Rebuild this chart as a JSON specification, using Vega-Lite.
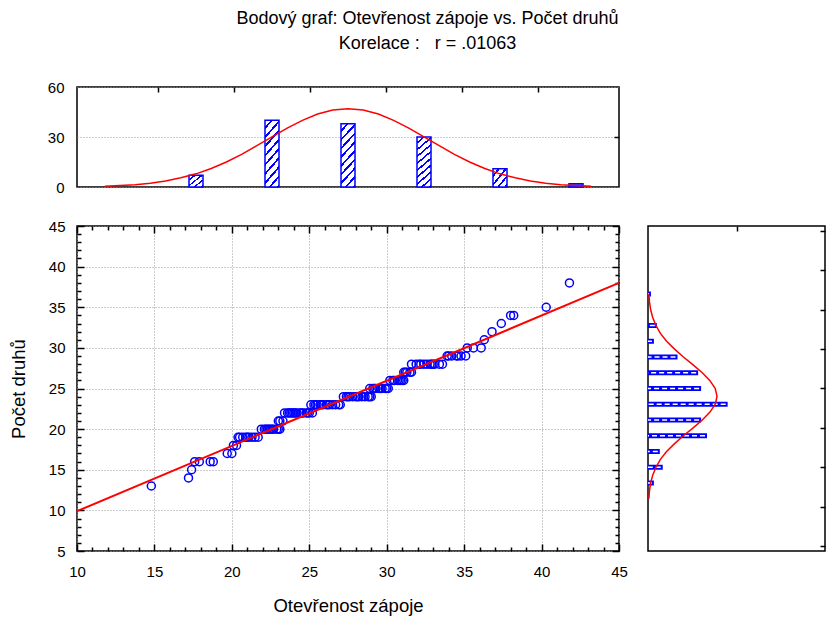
{
  "$schema": "https://vega.github.io/schema/vega-lite/v6.json",
  "background": "white",
  "padding": {"left": 8, "top": 10, "right": 5, "bottom": 5},
  "title": {
    "text": "Bodový graf: Otevřenost zápoje vs. Počet druhů",
    "subtitle": "Korelace :\u00a0\u00a0\u00a0r = .01063",
    "anchor": "middle",
    "dx": 10,
    "font": "Liberation Sans",
    "fontSize": 18,
    "fontWeight": "normal",
    "color": "black",
    "subtitleFont": "Liberation Sans",
    "subtitleFontSize": 18,
    "subtitleColor": "black",
    "subtitlePadding": 7,
    "offset": 26
  },
  "config": {
    "view": {"stroke": "black", "strokeWidth": 1.5},
    "axis": {
      "labelFont": "Liberation Sans",
      "labelFontSize": 15,
      "labelColor": "black",
      "titleFont": "Liberation Sans",
      "titleFontSize": 18.5,
      "titleFontWeight": "normal",
      "titleColor": "black",
      "domain": false,
      "tickColor": "black",
      "tickWidth": 1.5,
      "gridColor": "#999999",
      "gridDash": [1, 2],
      "gridWidth": 1,
      "labelFlush": false,
      "labelOverlap": false
    }
  },
  "spacing": 22,
  "vconcat": [
    {
      "width": 542,
      "height": 100,
      "layer": [
        {
          "data": {"values": [
            {"mid": 17.5, "count": 7}, {"mid": 22.5, "count": 40}, {"mid": 27.5, "count": 38},
            {"mid": 32.5, "count": 30}, {"mid": 37.5, "count": 11}, {"mid": 42.5, "count": 2}
          ]},
          "mark": {"type": "bar", "orient": "vertical", "size": 14, "stroke": "#0000ff", "strokeWidth": 1.5},
          "encoding": {
            "x": {"field": "mid", "type": "quantitative", "scale": {"domain": [10, 45], "nice": false, "zero": false},
                  "axis": {"orient": "top", "labels": false, "title": null, "values": [15, 20, 25, 30, 35, 40], "tickSize": -5, "grid": false}},
            "y": {"field": "count", "type": "quantitative", "scale": {"domain": [0, 60], "nice": false},
                  "axis": {"orient": "left", "values": [0, 30, 60], "title": null, "ticks": false, "grid": true, "labelPadding": 13}},
            "fill": {
              "condition": [
                {"test": "datum.count >= 25", "value": {"gradient": "linear", "x1": 0, "y1": 0, "x2": 0.28, "y2": 1.17, "stops": [
                  {"offset": 0, "color": "#ffffff"}, {"offset": 0.078, "color": "#ffffff"}, {"offset": 0.078, "color": "#0000ff"}, {"offset": 0.111, "color": "#0000ff"},
                  {"offset": 0.111, "color": "#ffffff"}, {"offset": 0.189, "color": "#ffffff"}, {"offset": 0.189, "color": "#0000ff"}, {"offset": 0.222, "color": "#0000ff"},
                  {"offset": 0.222, "color": "#ffffff"}, {"offset": 0.300, "color": "#ffffff"}, {"offset": 0.300, "color": "#0000ff"}, {"offset": 0.333, "color": "#0000ff"},
                  {"offset": 0.333, "color": "#ffffff"}, {"offset": 0.411, "color": "#ffffff"}, {"offset": 0.411, "color": "#0000ff"}, {"offset": 0.444, "color": "#0000ff"},
                  {"offset": 0.444, "color": "#ffffff"}, {"offset": 0.522, "color": "#ffffff"}, {"offset": 0.522, "color": "#0000ff"}, {"offset": 0.556, "color": "#0000ff"},
                  {"offset": 0.556, "color": "#ffffff"}, {"offset": 0.633, "color": "#ffffff"}, {"offset": 0.633, "color": "#0000ff"}, {"offset": 0.667, "color": "#0000ff"},
                  {"offset": 0.667, "color": "#ffffff"}, {"offset": 0.744, "color": "#ffffff"}, {"offset": 0.744, "color": "#0000ff"}, {"offset": 0.778, "color": "#0000ff"},
                  {"offset": 0.778, "color": "#ffffff"}, {"offset": 0.856, "color": "#ffffff"}, {"offset": 0.856, "color": "#0000ff"}, {"offset": 0.889, "color": "#0000ff"},
                  {"offset": 0.889, "color": "#ffffff"}, {"offset": 0.967, "color": "#ffffff"}, {"offset": 0.967, "color": "#0000ff"}, {"offset": 1.0, "color": "#0000ff"}
                ]}},
                {"test": "datum.count >= 5", "value": {"gradient": "linear", "x1": 0, "y1": 0, "x2": 0.95, "y2": 1.0, "stops": [
                  {"offset": 0, "color": "#ffffff"}, {"offset": 0.175, "color": "#ffffff"}, {"offset": 0.175, "color": "#0000ff"}, {"offset": 0.25, "color": "#0000ff"},
                  {"offset": 0.25, "color": "#ffffff"}, {"offset": 0.425, "color": "#ffffff"}, {"offset": 0.425, "color": "#0000ff"}, {"offset": 0.5, "color": "#0000ff"},
                  {"offset": 0.5, "color": "#ffffff"}, {"offset": 0.675, "color": "#ffffff"}, {"offset": 0.675, "color": "#0000ff"}, {"offset": 0.75, "color": "#0000ff"},
                  {"offset": 0.75, "color": "#ffffff"}, {"offset": 0.925, "color": "#ffffff"}, {"offset": 0.925, "color": "#0000ff"}, {"offset": 1.0, "color": "#0000ff"}
                ]}}
              ],
              "value": "#6060ff"
            }
          }
        },
        {
          "data": {"values": [
            {"x": 11.5, "y": 0.5}, {"x": 12.5, "y": 0.9}, {"x": 13.5, "y": 1.4}, {"x": 14.5, "y": 2.3},
            {"x": 15.5, "y": 3.6}, {"x": 16.5, "y": 5.5}, {"x": 17.5, "y": 7.9}, {"x": 18.5, "y": 11.1},
            {"x": 19.5, "y": 15.0}, {"x": 20.5, "y": 19.6}, {"x": 21.5, "y": 24.8}, {"x": 22.5, "y": 30.1},
            {"x": 23.5, "y": 35.3}, {"x": 24.5, "y": 40.0}, {"x": 25.5, "y": 43.8}, {"x": 26.5, "y": 46.2},
            {"x": 27.5, "y": 47.0}, {"x": 28.5, "y": 46.2}, {"x": 29.5, "y": 43.8}, {"x": 30.5, "y": 40.0},
            {"x": 31.5, "y": 35.3}, {"x": 32.5, "y": 30.1}, {"x": 33.5, "y": 24.8}, {"x": 34.5, "y": 19.6},
            {"x": 35.5, "y": 15.0}, {"x": 36.5, "y": 11.1}, {"x": 37.5, "y": 7.9}, {"x": 38.5, "y": 5.5},
            {"x": 39.5, "y": 3.6}, {"x": 40.5, "y": 2.3}, {"x": 41.5, "y": 1.4}, {"x": 42.5, "y": 0.9},
            {"x": 43.5, "y": 0.5}
          ]},
          "mark": {"type": "line", "color": "#ff0000", "strokeWidth": 1.5},
          "encoding": {
            "x": {"field": "x", "type": "quantitative", "axis": null},
            "y": {"field": "y", "type": "quantitative",
                  "axis": {"orient": "right", "labels": false, "title": null, "values": [30], "tickSize": -5, "grid": false}}
          }
        }
      ],
      "resolve": {"axis": {"x": "independent", "y": "independent"}}
    },
    {
      "spacing": 16,
      "hconcat": [
        {
          "width": 542,
          "height": 325,
          "layer": [
            {
              "data": {"values": [
                {"x": 14.8, "y": 13}, {"x": 17.2, "y": 14}, {"x": 17.4, "y": 15},
                {"x": 17.6, "y": 16}, {"x": 17.9, "y": 16}, {"x": 18.6, "y": 16}, {"x": 18.8, "y": 16},
                {"x": 19.7, "y": 17}, {"x": 20.0, "y": 17},
                {"x": 20.1, "y": 18}, {"x": 20.3, "y": 18},
                {"x": 20.4, "y": 19}, {"x": 20.5, "y": 19}, {"x": 20.7, "y": 19}, {"x": 20.9, "y": 19}, {"x": 21.0, "y": 19},
                {"x": 21.1, "y": 19}, {"x": 21.3, "y": 19}, {"x": 21.5, "y": 19}, {"x": 21.7, "y": 19},
                {"x": 21.9, "y": 20}, {"x": 22.1, "y": 20}, {"x": 22.2, "y": 20}, {"x": 22.3, "y": 20}, {"x": 22.4, "y": 20},
                {"x": 22.5, "y": 20}, {"x": 22.6, "y": 20}, {"x": 22.7, "y": 20}, {"x": 22.9, "y": 20}, {"x": 23.0, "y": 20}, {"x": 23.1, "y": 20},
                {"x": 23.0, "y": 21}, {"x": 23.1, "y": 21}, {"x": 23.3, "y": 21},
                {"x": 23.4, "y": 22}, {"x": 23.6, "y": 22}, {"x": 23.7, "y": 22}, {"x": 23.8, "y": 22}, {"x": 23.9, "y": 22},
                {"x": 24.0, "y": 22}, {"x": 24.1, "y": 22}, {"x": 24.2, "y": 22}, {"x": 24.4, "y": 22}, {"x": 24.5, "y": 22},
                {"x": 24.6, "y": 22}, {"x": 24.8, "y": 22}, {"x": 24.9, "y": 22}, {"x": 25.0, "y": 22}, {"x": 25.2, "y": 22},
                {"x": 25.1, "y": 23}, {"x": 25.3, "y": 23}, {"x": 25.4, "y": 23}, {"x": 25.5, "y": 23}, {"x": 25.7, "y": 23},
                {"x": 25.8, "y": 23}, {"x": 25.9, "y": 23}, {"x": 26.1, "y": 23}, {"x": 26.2, "y": 23}, {"x": 26.3, "y": 23},
                {"x": 26.5, "y": 23}, {"x": 26.7, "y": 23}, {"x": 26.9, "y": 23}, {"x": 27.0, "y": 23},
                {"x": 27.2, "y": 24}, {"x": 27.4, "y": 24}, {"x": 27.5, "y": 24}, {"x": 27.6, "y": 24}, {"x": 27.8, "y": 24},
                {"x": 28.0, "y": 24}, {"x": 28.1, "y": 24}, {"x": 28.2, "y": 24}, {"x": 28.4, "y": 24}, {"x": 28.6, "y": 24},
                {"x": 28.8, "y": 24}, {"x": 28.9, "y": 24}, {"x": 29.0, "y": 24},
                {"x": 28.9, "y": 25}, {"x": 29.1, "y": 25}, {"x": 29.2, "y": 25}, {"x": 29.3, "y": 25}, {"x": 29.5, "y": 25},
                {"x": 29.6, "y": 25}, {"x": 29.7, "y": 25}, {"x": 29.9, "y": 25}, {"x": 30.0, "y": 25}, {"x": 30.1, "y": 25},
                {"x": 30.2, "y": 26}, {"x": 30.4, "y": 26}, {"x": 30.5, "y": 26}, {"x": 30.7, "y": 26}, {"x": 30.8, "y": 26},
                {"x": 30.9, "y": 26}, {"x": 31.0, "y": 26}, {"x": 31.1, "y": 26},
                {"x": 31.1, "y": 27}, {"x": 31.2, "y": 27}, {"x": 31.3, "y": 27}, {"x": 31.5, "y": 27}, {"x": 31.6, "y": 27},
                {"x": 31.6, "y": 28}, {"x": 31.9, "y": 28}, {"x": 32.1, "y": 28}, {"x": 32.2, "y": 28}, {"x": 32.4, "y": 28},
                {"x": 32.6, "y": 28}, {"x": 32.8, "y": 28}, {"x": 32.9, "y": 28}, {"x": 33.0, "y": 28}, {"x": 33.1, "y": 28},
                {"x": 33.4, "y": 28}, {"x": 33.6, "y": 28},
                {"x": 33.9, "y": 29}, {"x": 34.0, "y": 29}, {"x": 34.2, "y": 29}, {"x": 34.5, "y": 29}, {"x": 34.6, "y": 29},
                {"x": 34.8, "y": 29}, {"x": 35.1, "y": 29},
                {"x": 35.2, "y": 30}, {"x": 35.6, "y": 30}, {"x": 36.1, "y": 30},
                {"x": 36.3, "y": 31}, {"x": 36.8, "y": 32}, {"x": 37.4, "y": 33},
                {"x": 38.0, "y": 34}, {"x": 38.2, "y": 34}, {"x": 40.3, "y": 35}, {"x": 41.8, "y": 38}
              ]},
              "mark": {"type": "point", "shape": "circle", "size": 64, "filled": false, "stroke": "#0000ff", "strokeWidth": 1.5, "opacity": 1},
              "encoding": {
                "x": {"field": "x", "type": "quantitative", "scale": {"domain": [10, 45], "nice": false, "zero": false},
                      "axis": {"orient": "bottom", "title": "Otevřenost zápoje", "values": [10,11,12,13,14,15,16,17,18,19,20,21,22,23,24,25,26,27,28,29,30,31,32,33,34,35,36,37,38,39,40,41,42,43,44,45],
                               "labelExpr": "datum.value % 5 === 0 ? datum.label : ''",
                               "tickSize": {"condition": {"test": "datum.value % 5 === 0", "value": -7}, "value": -4},
                               "grid": true,
                               "gridOpacity": {"condition": {"test": "datum.value % 5 === 0", "value": 1}, "value": 0},
                               "labelPadding": 20, "titlePadding": 14}},
                "y": {"field": "y", "type": "quantitative", "scale": {"domain": [5, 45], "nice": false, "zero": false},
                      "axis": {"orient": "left", "title": "Počet druhů", "values": [5,6,7,8,9,10,11,12,13,14,15,16,17,18,19,20,21,22,23,24,25,26,27,28,29,30,31,32,33,34,35,36,37,38,39,40,41,42,43,44,45],
                               "labelExpr": "datum.value % 5 === 0 ? datum.label : ''",
                               "tickSize": {"condition": {"test": "datum.value % 5 === 0", "value": -7}, "value": -4},
                               "grid": true,
                               "gridOpacity": {"condition": {"test": "datum.value % 5 === 0", "value": 1}, "value": 0},
                               "labelPadding": 19, "titlePadding": 20}}
              }
            },
            {
              "data": {"values": [{"x": 10, "y": 9.9}, {"x": 45, "y": 38.0}]},
              "mark": {"type": "line", "color": "#ff0000", "strokeWidth": 2},
              "encoding": {
                "x": {"field": "x", "type": "quantitative",
                      "axis": {"orient": "top", "labels": false, "title": null, "values": [10,11,12,13,14,15,16,17,18,19,20,21,22,23,24,25,26,27,28,29,30,31,32,33,34,35,36,37,38,39,40,41,42,43,44,45],
                               "tickSize": {"condition": {"test": "datum.value % 5 === 0", "value": -7}, "value": -4}, "grid": false}},
                "y": {"field": "y", "type": "quantitative",
                      "axis": {"orient": "right", "labels": false, "title": null, "values": [5,6,7,8,9,10,11,12,13,14,15,16,17,18,19,20,21,22,23,24,25,26,27,28,29,30,31,32,33,34,35,36,37,38,39,40,41,42,43,44,45],
                               "tickSize": {"condition": {"test": "datum.value % 5 === 0", "value": -7}, "value": -4}, "grid": false}}
              }
            }
          ],
          "resolve": {"axis": {"x": "independent", "y": "independent"}}
        },
        {
          "width": 177,
          "height": 325,
          "layer": [
            {
              "data": {"values": [
                {"mid": 13, "count": 2}, {"mid": 15, "count": 5}, {"mid": 17, "count": 4}, {"mid": 19, "count": 20},
                {"mid": 21, "count": 18}, {"mid": 23, "count": 27}, {"mid": 25, "count": 18}, {"mid": 27, "count": 17},
                {"mid": 29, "count": 10}, {"mid": 31, "count": 2}, {"mid": 33, "count": 3}, {"mid": 37, "count": 1}
              ]},
              "layer": [
                {
                  "mark": {"type": "bar", "orient": "horizontal", "size": 5, "fill": "#0000ff"},
                  "encoding": {
                    "y": {"field": "mid", "type": "quantitative", "scale": {"domain": [5, 45], "nice": false, "zero": false},
                          "axis": {"orient": "left", "labels": false, "title": null, "values": [5,10,15,20,25,30,35,40,45], "tickSize": -5, "grid": false}},
                    "x": {"field": "count", "type": "quantitative", "scale": {"domain": [0, 60], "nice": false},
                          "axis": {"orient": "bottom", "values": [0, 30, 60], "title": null, "grid": true, "tickSize": -5, "labelPadding": 18}}
                  }
                },
                {
                  "mark": {"type": "rule", "stroke": "white", "strokeWidth": 1.5, "strokeDash": [5, 3], "strokeDashOffset": -2},
                  "encoding": {
                    "x": {"field": "count", "type": "quantitative", "axis": null},
                    "x2": {"datum": 0},
                    "y": {"field": "mid", "type": "quantitative", "axis": null}
                  }
                }
              ]
            },
            {
              "data": {"values": [
                {"y": 11, "x": 0.3}, {"y": 12, "x": 0.5}, {"y": 13, "x": 0.9}, {"y": 14, "x": 1.6}, {"y": 15, "x": 2.7},
                {"y": 16, "x": 4.2}, {"y": 17, "x": 6.3}, {"y": 18, "x": 9.0}, {"y": 19, "x": 12.0}, {"y": 20, "x": 15.3},
                {"y": 21, "x": 18.4}, {"y": 22, "x": 21.0}, {"y": 23, "x": 22.8}, {"y": 24, "x": 23.4}, {"y": 25, "x": 22.8},
                {"y": 26, "x": 21.0}, {"y": 27, "x": 18.4}, {"y": 28, "x": 15.3}, {"y": 29, "x": 12.0}, {"y": 30, "x": 9.0},
                {"y": 31, "x": 6.3}, {"y": 32, "x": 4.2}, {"y": 33, "x": 2.7}, {"y": 34, "x": 1.6}, {"y": 35, "x": 0.9},
                {"y": 36, "x": 0.5}, {"y": 37, "x": 0.3}
              ]},
              "mark": {"type": "line", "color": "#ff0000", "strokeWidth": 1.5},
              "encoding": {
                "x": {"field": "x", "type": "quantitative",
                      "axis": {"orient": "top", "labels": false, "title": null, "values": [30], "tickSize": -5, "grid": false}},
                "y": {"field": "y", "type": "quantitative",
                      "axis": {"orient": "right", "labels": false, "title": null, "values": [5,10,15,20,25,30,35,40,45], "tickSize": -5, "grid": false}},
                "order": {"field": "y", "type": "quantitative"}
              }
            }
          ],
          "resolve": {"axis": {"x": "independent", "y": "independent"}}
        }
      ]
    }
  ]
}
